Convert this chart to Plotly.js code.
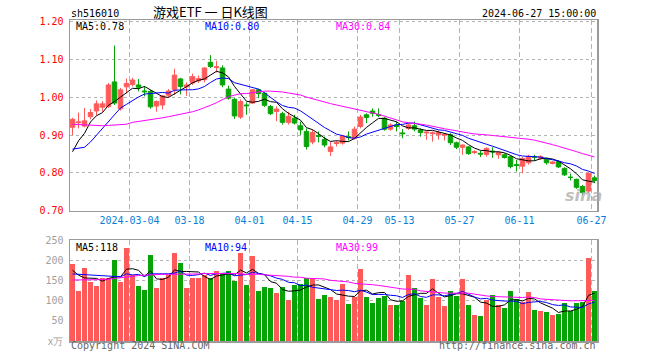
<!DOCTYPE html>
<html><head><meta charset="utf-8">
<script src="https://cdn.plot.ly/plotly-3.0.1.min.js"></script>
<style>html,body{margin:0;padding:0;background:#fff}#chart{width:660px;height:360px}</style>
</head><body><div id="chart"></div>
<script>
// ---- data ----
const tickIdx = [10, 20, 30, 38, 48, 55, 65, 75, 87];
const tickLabels = ['2024-03-04', '03-18', '04-01', '04-15', '04-29', '05-13', '05-27', '06-11', '06-27'];

const openP = [0.921,0.933,0.924,0.949,0.964,0.974,0.976,1.041,0.970,1.028,
 1.034,1.033,1.017,1.016,0.977,0.980,1.006,1.021,1.049,1.028,
 1.038,1.044,1.047,1.093,1.079,1.078,1.022,0.995,0.948,0.980,
 0.985,1.020,1.011,0.976,0.963,0.957,0.934,0.945,0.925,0.910,
 0.882,0.899,0.889,0.857,0.878,0.879,0.896,0.892,0.923,0.954,
 0.964,0.954,0.945,0.916,0.927,0.906,0.918,0.925,0.914,0.906,
 0.904,0.901,0.900,0.901,0.880,0.868,0.869,0.854,0.852,0.849,
 0.858,0.848,0.848,0.843,0.822,0.818,0.827,0.843,0.839,0.839,
 0.825,0.830,0.812,0.789,0.783,0.764,0.752,0.787];
const highP = [0.946,0.960,0.972,0.969,0.992,0.990,1.038,1.137,1.025,1.050,
 1.052,1.049,1.030,1.020,0.992,1.006,1.022,1.076,1.052,1.040,
 1.063,1.058,1.080,1.112,1.097,1.085,1.031,0.998,0.995,0.987,
 1.022,1.023,1.015,0.980,0.976,0.962,0.962,0.954,0.936,0.918,
 0.914,0.910,0.896,0.883,0.885,0.900,0.910,0.923,0.954,0.958,
 0.971,0.971,0.948,0.931,0.936,0.916,0.931,0.936,0.918,0.910,
 0.910,0.912,0.905,0.905,0.883,0.875,0.871,0.860,0.859,0.868,
 0.868,0.857,0.852,0.846,0.834,0.842,0.848,0.848,0.847,0.841,
 0.831,0.833,0.815,0.798,0.785,0.768,0.801,0.793];
const lowP = [0.900,0.918,0.921,0.942,0.952,0.962,0.972,0.980,0.965,1.011,
 1.029,1.016,1.003,0.970,0.962,0.968,1.000,1.007,1.008,1.004,
 1.033,1.038,1.040,1.078,1.066,1.027,0.994,0.943,0.943,0.954,
 0.983,0.998,0.975,0.953,0.937,0.928,0.928,0.928,0.901,0.862,
 0.876,0.881,0.868,0.845,0.870,0.875,0.886,0.888,0.918,0.932,
 0.949,0.948,0.912,0.912,0.910,0.892,0.914,0.910,0.896,0.888,
 0.883,0.888,0.886,0.874,0.863,0.848,0.848,0.850,0.842,0.843,
 0.840,0.838,0.838,0.812,0.804,0.799,0.822,0.832,0.835,0.822,
 0.823,0.813,0.792,0.780,0.758,0.742,0.747,0.773];
const closeP = [0.942,0.935,0.938,0.960,0.983,0.983,1.033,0.985,1.020,1.037,
 1.046,1.027,1.015,0.975,0.989,1.004,1.017,1.059,1.029,1.033,
 1.055,1.050,1.078,1.082,1.081,1.033,0.998,0.951,0.989,0.978,
 1.020,1.010,0.979,0.957,0.969,0.934,0.950,0.932,0.914,0.870,
 0.907,0.897,0.874,0.869,0.880,0.898,0.894,0.916,0.948,0.947,
 0.958,0.953,0.916,0.927,0.923,0.904,0.927,0.916,0.907,0.908,
 0.906,0.907,0.902,0.880,0.868,0.874,0.851,0.856,0.850,0.865,
 0.856,0.854,0.841,0.817,0.820,0.838,0.844,0.842,0.843,0.827,
 0.829,0.816,0.795,0.788,0.762,0.748,0.799,0.780];
const volume = [190,123,180,146,136,156,156,200,146,230,
 163,136,126,213,131,156,163,218,193,131,
 156,156,163,156,173,166,173,148,218,138,
 210,123,133,131,118,133,101,138,141,156,
 156,103,113,109,101,141,91,109,179,109,
 94,107,112,89,89,99,163,132,107,89,
 154,109,87,123,112,154,89,64,62,101,
 113,89,82,123,104,97,121,76,74,72,
 64,67,94,74,94,96,206,123];

// leading moving-average values (history before the window)
const ma5Head = [0.856, 0.885, 0.905, 0.935];
const ma10Head = [0.863, 0.865, 0.868, 0.882, 0.900, 0.920, 0.938, 0.955, 0.972];
const ma30Head = [0.929,0.928,0.927,0.926,0.925,0.925,0.926,0.927,0.928,0.929,
 0.934,0.936,0.938,0.940,0.943,0.946,0.949,0.952,0.955,0.958,
 0.962,0.967,0.972,0.979,0.986,0.993,1.002,1.006,1.010];
const vma5Head = [175, 163, 156, 155];
const vma10Head = [166, 165, 164, 163, 163, 162, 161, 160, 159];
const vma30Head = [151,151,151,151,151,152,153,155,157,159,
 160,162,163,164,164,165,165,165,166,166,
 166,166,167,167,167,167,167,167,167];

const yTicks = [0.70, 0.80, 0.90, 1.00, 1.10, 1.20];
const vTicks = [0, 50, 100, 150, 200, 250];
const vTickText = ['x万', '50', '100', '150', '200', '250'];

// ---- drawing ----
const RED = '#ff5a5a', GREEN = '#06a406';
const MONO = 'DejaVu Sans Mono';

function movingAvg(src, n, head) {
  return src.map((v, i) => {
    if (i < n - 1) return head[i];
    let s = 0;
    for (let k = i - n + 1; k <= i; k++) s += src[k];
    return s / n;
  });
}
const xs = closeP.map((_, i) => i);
const volColors = closeP.map((c, i) => c >= openP[i] ? RED : GREEN);

const line = (y, color, xa, ya) => ({type: 'scatter', mode: 'lines', x: xs, y: y,
  xaxis: xa, yaxis: ya, line: {color: color, width: 1}, hoverinfo: 'skip', showlegend: false});

const traces = [
  {type: 'candlestick', x: xs, open: openP, high: highP, low: lowP, close: closeP,
   xaxis: 'x', yaxis: 'y', whiskerwidth: 0, hoverinfo: 'skip', showlegend: false,
   increasing: {line: {color: RED, width: 1}, fillcolor: RED},
   decreasing: {line: {color: GREEN, width: 1}, fillcolor: GREEN}},
  line(movingAvg(closeP, 5, ma5Head), '#000000', 'x', 'y'),
  line(movingAvg(closeP, 10, ma10Head), '#0000ff', 'x', 'y'),
  line(movingAvg(closeP, 30, ma30Head), '#ff00ff', 'x', 'y'),
  {type: 'bar', x: xs, y: volume, xaxis: 'x2', yaxis: 'y2', width: 0.83,
   marker: {color: volColors, line: {width: 0}}, hoverinfo: 'skip', showlegend: false},
  line(movingAvg(volume, 5, vma5Head), '#000000', 'x2', 'y2'),
  line(movingAvg(volume, 10, vma10Head), '#0000ff', 'x2', 'y2'),
  line(movingAvg(volume, 30, vma30Head), '#ff00ff', 'x2', 'y2')
];

const xRange = [-0.4167, 87.4167];
const gridX = tickIdx.map(i => i - 0.5);
const frame = {showline: true, mirror: true, linecolor: '#9a9a9a', linewidth: 1.5, zeroline: false, ticks: ''};

const ann = (text, x, y, xanchor, color, extra) => Object.assign({
  text: text, x: x, y: y, xref: 'paper', yref: 'paper', xanchor: xanchor, yanchor: 'middle',
  showarrow: false, borderpad: 0, font: {family: MONO, size: 10, color: color}}, extra || {});

const layout = {
  width: 660, height: 360,
  margin: {l: 70, r: 63, t: 20, b: 19, pad: 0},
  paper_bgcolor: '#ffffff', plot_bgcolor: '#ffffff',
  font: {family: MONO, size: 10, color: '#000'},
  boxgap: 0.25, boxgroupgap: 0, bargap: 0,
  showlegend: false,
  xaxis: Object.assign({}, frame, {domain: [0, 1], anchor: 'y', range: xRange,
    tickmode: 'array', tickvals: gridX, ticktext: tickLabels,
    tickfont: {family: MONO, size: 10, color: '#0a7fd8'},
    showgrid: true, gridcolor: '#b4b4b4', griddash: '5px,3px', gridwidth: 1,
    rangeslider: {visible: false}}),
  yaxis: Object.assign({}, frame, {domain: [0.4059, 1], anchor: 'x', range: [0.70, 1.205],
    tickmode: 'array', tickvals: yTicks, ticktext: yTicks.map(v => v.toFixed(2)),
    tickfont: {family: MONO, size: 10, color: '#ff0000'}, ticklabelstandoff: 3,
    showgrid: true, gridcolor: '#b4b4b4', griddash: 'dot', gridwidth: 1}),
  xaxis2: Object.assign({}, frame, {domain: [0, 1], anchor: 'y2', range: xRange, matches: 'x',
    tickmode: 'array', tickvals: gridX, showticklabels: false,
    showgrid: true, gridcolor: '#b4b4b4', griddash: '5px,3px', gridwidth: 1}),
  yaxis2: Object.assign({}, frame, {domain: [0, 0.3146], anchor: 'x2', range: [0, 250],
    tickmode: 'array', tickvals: vTicks, ticktext: vTickText,
    tickfont: {family: MONO, size: 10, color: '#a0a0a0'}, ticklabelstandoff: 3,
    showgrid: true, gridcolor: '#b4b4b4', griddash: 'dot', gridwidth: 1}),
  annotations: [
    ann('sh516010', 0, 1.0218, 'left', '#000'),
    ann('游戏ETF 一 日K线图', 0.2657, 1.0265, 'center', '#000',
        {font: {family: 'Noto Sans CJK SC', size: 13, color: '#000'}}),
    ann('2024-06-27 15:00:00', 1, 1.0218, 'right', '#000'),
    ann('MA5:0.78', 0.0095, 0.9798, 'left', '#000000'),
    ann('MA10:0.80', 0.2543, 0.9798, 'left', '#0000ff'),
    ann('MA30:0.84', 0.5028, 0.9798, 'left', '#ff00ff'),
    ann('MA5:118', 0.0095, 0.2928, 'left', '#000000'),
    ann('MA10:94', 0.2543, 0.2928, 'left', '#0000ff'),
    ann('MA30:99', 0.5028, 0.2928, 'left', '#ff00ff'),
    ann('Copyright 2024 SINA.COM', 0, -0.014, 'left', '#666666'),
    ann('http://finance.sina.com.cn', 1, -0.014, 'right', '#666666'),
    ann('sina', 0.974, 0.452, 'center', '#c4c4c4',
        {font: {family: 'DejaVu Sans', size: 16, color: 'rgba(170,170,170,0.75)', weight: 'bold', style: 'italic'}})
  ]
};

Plotly.newPlot('chart', traces, layout, {staticPlot: true, displayModeBar: false});
</script>
</body></html>
